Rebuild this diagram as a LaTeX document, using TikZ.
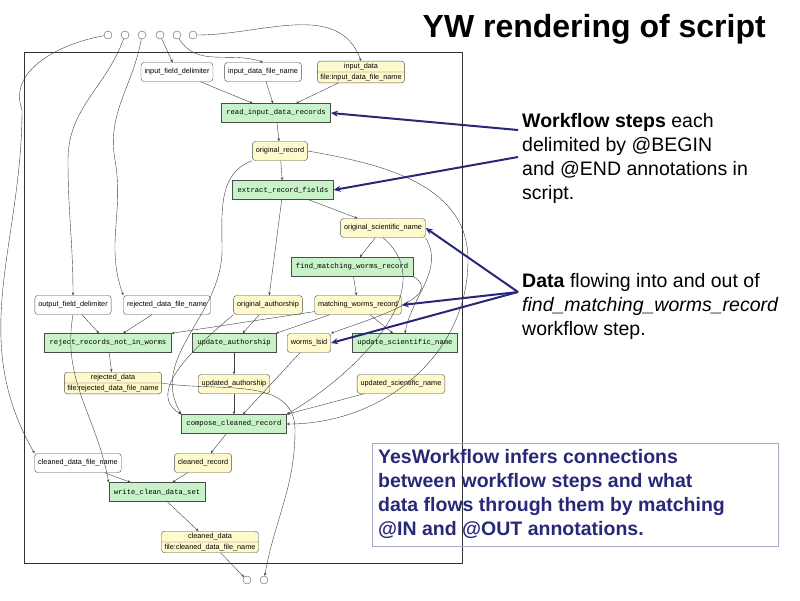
\documentclass[tikz,border=0pt]{standalone}
\usepackage{fontspec}
\setmainfont{Liberation Sans}
\newfontfamily\gmono{Liberation Mono}
\usetikzlibrary{positioning, calc, arrows.meta, shapes.multipart}
\definecolor{stepgreen}{RGB}{200,242,200}
\definecolor{datayellow}{RGB}{255,250,205}
\definecolor{navy}{RGB}{40,40,120}
\begin{document}
\begin{tikzpicture}[x=1pt, y=-1pt,
    every node/.style={inner sep=1.5pt, font=\fontsize{7.3}{8}\selectfont},
    port/.style={circle, draw=gray!70!black, fill=white, minimum size=8pt, inner sep=0pt},
    param/.style={draw=black!70, rounded corners=3pt, fill=white, minimum height=19pt, inner xsep=3.5pt},
    dat/.style={param, fill=datayellow},
    dat2/.style={draw=black!70, rounded corners=3pt, fill=datayellow, rectangle split, rectangle split parts=2, inner xsep=3pt, inner ysep=1.8pt, align=center},
    wstep/.style={draw=black!70, fill=stepgreen, minimum height=19pt, inner xsep=5pt, font=\gmono\fontsize{7.2}{8}\selectfont},
    flow/.style={draw=black!75, thin, -{Stealth[length=3pt, width=2.5pt]}},
    note/.style={font=\fontsize{19.5}{24}\selectfont, align=left, anchor=north west, inner sep=0pt},
    point/.style={draw=navy, line width=2pt, -{Stealth[length=7pt, width=6pt]}}]
  \useasboundingbox (0,0) rectangle (800,600);
  % frame
  \draw[black!80] (24,52) rectangle (462,563);
  % ports
  \foreach \i/\x in {1/108,2/125,3/142,4/160,5/177,6/193}
    \node[port] (in\i) at (\x,35) {};
  \node[port] (out1) at (247,580) {};
  \node[port] (out2) at (264,580) {};

  % data and parameters
  \node[param] (ifd) at (177,72) {input\_field\_delimiter};
  \node[param] (idfn) at (263,72) {input\_data\_file\_name};
  \node[dat2] (idat) at (361,72) {input\_data\nodepart{two}file:{input\_data\_file\_name}};
  \node[dat] (orec) at (280,151) {original\_record};
  \node[dat] (osn) at (383,228) {original\_scientific\_name};
  \node[param] (ofd) at (73,305) {output\_field\_delimiter};
  \node[param] (rdfn) at (167,305) {rejected\_data\_file\_name};
  \node[dat] (oauth) at (268,305) {original\_authorship};
  \node[dat] (mwr) at (358,305) {matching\_worms\_record};
  \node[dat] (lsid) at (309,343) {worms\_lsid};
  \node[dat2] (rdat) at (113,383) {rejected\_data\nodepart{two}file:{rejected\_data\_file\_name}};
  \node[dat] (uauth) at (234,384) {updated\_authorship};
  \node[dat] (usn) at (401,384) {updated\_scientific\_name};
  \node[param] (cdfn) at (78,463) {cleaned\_data\_file\_name};
  \node[dat] (crec) at (203,463) {cleaned\_record};
  \node[dat2] (cdat) at (210,542) {cleaned\_data\nodepart{two}file:{cleaned\_data\_file\_name}};

  % steps
  \node[wstep] (read) at (276,113) {read\_input\_data\_records};
  \node[wstep] (extr) at (283,190) {extract\_record\_fields};
  \node[wstep] (find) at (352,267) {find\_matching\_worms\_record};
  \node[wstep] (rej) at (108,343) {reject\_records\_not\_in\_worms};
  \node[wstep] (upa) at (234,343) {update\_authorship};
  \node[wstep] (ups) at (405,343) {update\_scientific\_name};
  \node[wstep] (comp) at (234,424) {compose\_cleaned\_record};
  \node[wstep] (write) at (157,492) {write\_clean\_data\_set};

  % connections
  \draw[flow] (in1) to[out=190, in=110] (22,110) to[out=-90, in=120] (cdfn.north west);
  \draw[flow] (in2) to[out=-110, in=90] (68,160) to[out=-90, in=90] (ofd);
  \draw[flow] (in3) to[out=-100, in=100] (115,160) to[out=-80, in=110] (rdfn.north west);
  \draw[flow] (in4) -- (ifd);
  \draw[flow] (in5) to[out=-60, in=160] (idfn.north);
  \draw[flow] (in6) to[out=0, in=110] (idat.north);
  \draw[flow] (ifd) -- (read);
  \draw[flow] (idfn) -- (read);
  \draw[flow] (idat) -- (read);
  \draw[flow] (read) -- (orec);
  \draw[flow] (orec) -- (extr);
  \draw[flow] (orec.east) to[out=-10, in=90] (468,260) to[out=-90, in=0] (comp.east);
  \draw[flow] (orec.south west) to[out=200, in=90] (222,250) to[out=-90, in=120] (comp.north west);
  \draw[flow] (extr) -- (osn);
  \draw[flow] (extr) -- (oauth);
  \draw[flow] (osn) -- (find);
  \draw[flow] (osn.south east) to[out=-60, in=80] (ups.north);
  \draw[flow] (osn.south) to[out=-40, in=30] (comp.north east);
  \draw[flow] (find) -- (mwr);
  \draw[flow] (find.south east) to[out=-30, in=20] (lsid.north east);
  \draw[flow] (mwr) -- (rej.north east);
  \draw[flow] (mwr) -- (upa.north east);
  \draw[flow] (mwr) -- (ups);
  \draw[flow] (oauth) -- (upa);
  \draw[flow] (oauth.south west) to[out=220, in=150] (comp.north west);
  \draw[flow] (ofd) -- (rej);
  \draw[flow] (rdfn) -- (rej);
  \draw[flow] (ofd.south) to[out=-100, in=100] (write.north west);
  \draw[flow] (rej) -- (rdat);
  \draw[flow] (upa) -- (uauth);
  \draw[flow] (uauth) -- (comp);
  \draw[flow] (lsid) -- (comp);
  \draw[flow] (usn) -- (comp.north east);
  \draw[flow] (rdat.east) to[out=-10, in=90] (295,430) to[out=-90, in=80] (out2);
  \draw[flow] (comp) -- (crec);
  \draw[flow] (crec) -- (write);
  \draw[flow] (cdfn) -- (write);
  \draw[flow] (write) -- (cdat);
  \draw[flow] (cdat) -- (out1);

  % title and notes
  \node[font=\bfseries\fontsize{32}{34}\selectfont, anchor=east, inner sep=0pt] (title) at (766,29) {YW rendering of script};
  \node[note] (n1) at (522,113) {\textbf{Workflow steps} each\\ delimited by @BEGIN\\ and @END annotations in\\ script.};
  \node[note] (n2) at (522,273) {\textbf{Data} flowing into and out of\\ \textit{find\_matching\_worms\_record}\\ workflow step.};
  \node[draw=navy!40, line width=1.2pt, minimum width=406pt, minimum height=103pt, anchor=north west] (box) at (372,443) {};
  \node[note, text=navy, font=\bfseries\fontsize{19.5}{24}\selectfont] (n3) at (378,449) {YesWorkflow infers connections\\ between workflow steps and what\\ data flows through them by matching\\ @IN and @OUT annotations.};

  \coordinate (p1) at (518,130);
  \coordinate (p2) at (518,157);
  \coordinate (p3) at (518,292);
  \draw[point] (p1) -- (read.east);
  \draw[point] (p2) -- (extr.east);
  \draw[point] (p3) -- (osn.east);
  \draw[point] (p3) -- (mwr.east);
  \draw[point] (p3) -- (lsid.east);
\end{tikzpicture}
\end{document}
